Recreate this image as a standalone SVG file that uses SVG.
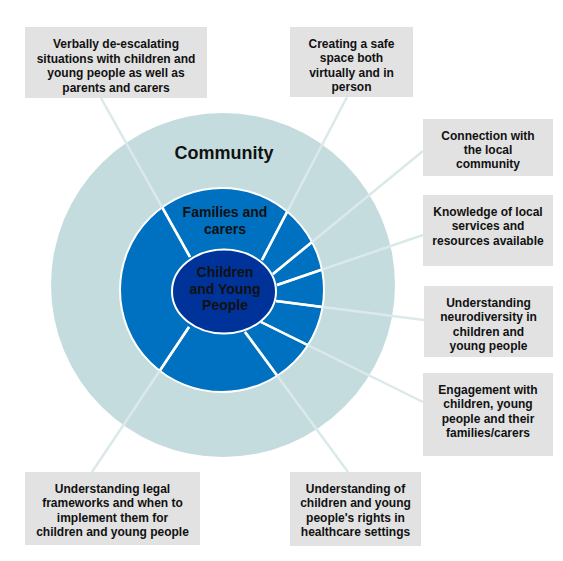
<svg xmlns="http://www.w3.org/2000/svg" width="563" height="561" viewBox="0 0 563 561">
  <style>
    .box { fill: #e2e2e2; }
    .bt { font-family: "Liberation Sans", Arial, sans-serif; font-weight: bold; font-size: 12px; fill: #111111; text-anchor: middle; }
    .ct { font-family: "Liberation Sans", Arial, sans-serif; font-weight: bold; fill: #111111; text-anchor: middle; }
    .conn line { stroke: #dbe9eb; stroke-width: 2.5; fill: none; }
    .div line { stroke: #ffffff; stroke-width: 2.5; fill: none; }
  </style>
  <defs>
    <clipPath id="ringClip"><circle cx="222" cy="290" r="102"/></clipPath>
  </defs>
  <rect width="563" height="561" fill="#ffffff"/>

  <g id="community">
    <circle cx="223" cy="285" r="172" fill="#c5dcde"/>
    <text class="ct" x="224" y="159" font-size="18">Community</text>
  </g>

  <g id="families">
    <circle cx="222" cy="290" r="102" fill="#0070c0" stroke="#ffffff" stroke-width="2"/>
    <text class="ct" x="225" y="217" font-size="14">Families and</text>
    <text class="ct" x="225" y="234" font-size="14">carers</text>
  </g>

  <g id="connectors" class="conn">
    <line x1="101" y1="98" x2="190" y2="257"/>
    <line x1="347" y1="97" x2="262" y2="260"/>
    <line x1="423" y1="151" x2="273" y2="274"/>
    <line x1="423" y1="235" x2="277" y2="285"/>
    <line x1="424" y1="320" x2="276" y2="301"/>
    <line x1="423" y1="402" x2="261" y2="322"/>
    <line x1="348" y1="472" x2="245" y2="332"/>
    <line x1="92" y1="472" x2="189" y2="327"/>
  </g>

  <g id="ring-dividers" class="div" clip-path="url(#ringClip)">
    <line x1="101" y1="98" x2="190" y2="257"/>
    <line x1="347" y1="97" x2="262" y2="260"/>
    <line x1="423" y1="151" x2="273" y2="274"/>
    <line x1="423" y1="235" x2="277" y2="285"/>
    <line x1="424" y1="320" x2="276" y2="301"/>
    <line x1="423" y1="402" x2="261" y2="322"/>
    <line x1="348" y1="472" x2="245" y2="332"/>
    <line x1="92" y1="472" x2="189" y2="327"/>
  </g>

  <g id="children">
    <ellipse cx="224" cy="291.5" rx="52" ry="42" fill="#003399" stroke="#ffffff" stroke-width="2"/>
    <text class="ct" x="225" y="277" font-size="14">Children</text>
    <text class="ct" x="225" y="293.5" font-size="14">and Young</text>
    <text class="ct" x="225" y="310" font-size="14">People</text>
  </g>

  <g id="box-verbally">
    <rect class="box" x="25" y="27" width="182" height="71"/>
    <text class="bt" x="116" y="48">Verbally de-escalating</text>
    <text class="bt" x="116" y="62.5">situations with children and</text>
    <text class="bt" x="116" y="77">young people as well as</text>
    <text class="bt" x="116" y="91.5">parents and carers</text>
  </g>

  <g id="box-safe-space">
    <rect class="box" x="290" y="27" width="123" height="70"/>
    <text class="bt" x="351.5" y="47.5">Creating a safe</text>
    <text class="bt" x="351.5" y="62">space both</text>
    <text class="bt" x="351.5" y="76.5">virtually and in</text>
    <text class="bt" x="351.5" y="91">person</text>
  </g>

  <g id="box-connection">
    <rect class="box" x="423" y="119" width="130" height="57"/>
    <text class="bt" x="488" y="140">Connection with</text>
    <text class="bt" x="488" y="154">the local</text>
    <text class="bt" x="488" y="168">community</text>
  </g>

  <g id="box-knowledge">
    <rect class="box" x="423" y="195" width="130" height="71"/>
    <text class="bt" x="488" y="216">Knowledge of local</text>
    <text class="bt" x="488" y="230.3">services and</text>
    <text class="bt" x="488" y="244.6">resources available</text>
  </g>

  <g id="box-neurodiversity">
    <rect class="box" x="424" y="286" width="129" height="71"/>
    <text class="bt" x="488.5" y="307">Understanding</text>
    <text class="bt" x="488.5" y="321.3">neurodiversity in</text>
    <text class="bt" x="488.5" y="335.6">children and</text>
    <text class="bt" x="488.5" y="350">young people</text>
  </g>

  <g id="box-engagement">
    <rect class="box" x="423" y="373" width="130" height="83"/>
    <text class="bt" x="488" y="394">Engagement with</text>
    <text class="bt" x="488" y="408.3">children, young</text>
    <text class="bt" x="488" y="422.6">people and their</text>
    <text class="bt" x="488" y="437">families/carers</text>
  </g>

  <g id="box-rights">
    <rect class="box" x="290" y="472" width="131" height="74"/>
    <text class="bt" x="355.5" y="493">Understanding of</text>
    <text class="bt" x="355.5" y="507.3">children and young</text>
    <text class="bt" x="355.5" y="521.6">people's rights in</text>
    <text class="bt" x="355.5" y="536">healthcare settings</text>
  </g>

  <g id="box-legal">
    <rect class="box" x="25" y="472" width="175" height="73"/>
    <text class="bt" x="112.5" y="493">Understanding legal</text>
    <text class="bt" x="112.5" y="507.3">frameworks and when to</text>
    <text class="bt" x="112.5" y="521.6">implement them for</text>
    <text class="bt" x="112.5" y="536">children and young people</text>
  </g>
</svg>
